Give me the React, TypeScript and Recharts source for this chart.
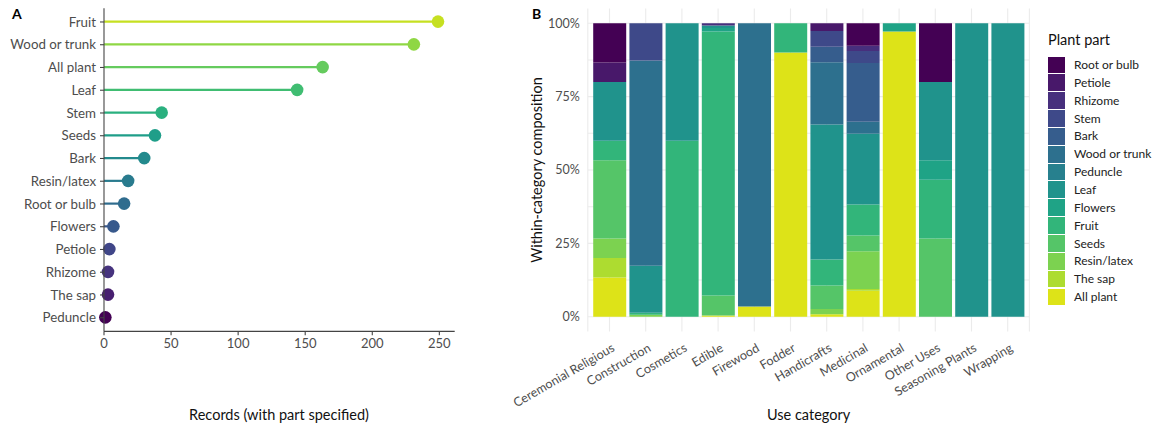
import React from 'react';
import {
  BarChart,
  Bar,
  XAxis,
  YAxis,
  CartesianGrid,
} from 'recharts';

const FONT = 'Lato, "Open Sans", "DejaVu Sans", sans-serif';
const TICK_GREY = '#4D4D4D';
const AXIS_GREY = '#444444';

// ---- Panel A: records per plant part (lollipop) ----
const lollipopParts = [
  'Fruit', 'Wood or trunk', 'All plant', 'Leaf', 'Stem', 'Seeds', 'Bark',
  'Resin/latex', 'Root or bulb', 'Flowers', 'Petiole', 'Rhizome', 'The sap', 'Peduncle',
];
const lollipopRecords = [249, 231, 163, 144, 43, 38, 30, 18, 15, 7, 4, 3, 3, 1];
const lollipopColors = [
  '#C6E021', '#8FD744', '#65CB5E', '#40BD72', '#2AB07F', '#1F9E89', '#238A8D',
  '#297B8E', '#2F6C8E', '#38598C', '#404688', '#46337E', '#481F70', '#440154',
];
const recordTicks = [0, 50, 100, 150, 200, 250];

// ---- Panel B: plant-part composition within each use category ----
const useCategories = [
  'Ceremonial Religious', 'Construction', 'Cosmetics', 'Edible', 'Firewood', 'Fodder',
  'Handicrafts', 'Medicinal', 'Ornamental', 'Other Uses', 'Seasoning Plants', 'Wrapping',
];

// legend order (top of stack first)
const plantParts = [
  'Root or bulb', 'Petiole', 'Rhizome', 'Stem', 'Bark', 'Wood or trunk', 'Peduncle',
  'Leaf', 'Flowers', 'Fruit', 'Seeds', 'Resin/latex', 'The sap', 'All plant',
];
const partColors = [
  '#440154', '#48186A', '#472F7D', '#3E4989', '#365D8D', '#2D708E', '#27808E',
  '#20938C', '#1FA386', '#32B57A', '#55C568', '#7CD250', '#ADDC30', '#DDE318',
];

// record counts per use category, one array per plant part
const rootOrBulb = [2, 0, 0, 0, 0, 0, 0, 13, 0, 3, 0, 0];
const petiole = [1, 0, 0, 0, 0, 0, 3, 0, 0, 0, 0, 0];
const rhizome = [0, 0, 0, 2, 0, 0, 0, 3, 0, 0, 0, 0];
const stem = [0, 19, 0, 0, 0, 0, 6, 7, 0, 0, 0, 0];
const bark = [0, 0, 0, 0, 0, 0, 6, 34, 0, 0, 0, 0];
const woodOrTrunk = [0, 105, 0, 0, 28, 0, 24, 7, 0, 0, 0, 0];
const peduncle = [0, 0, 0, 0, 0, 0, 0, 0, 0, 0, 0, 0];
const leaf = [3, 24, 2, 2, 0, 0, 52, 41, 0, 4, 1, 1];
const flowers = [0, 0, 0, 3, 0, 0, 0, 0, 1, 1, 0, 0];
const fruit = [1, 1, 3, 225, 0, 1, 10, 18, 0, 3, 0, 0];
const seeds = [4, 0, 0, 17, 0, 0, 9, 9, 0, 4, 0, 0];
const resinLatex = [1, 1, 0, 0, 0, 0, 2, 22, 0, 0, 0, 0];
const theSap = [1, 0, 0, 0, 0, 0, 0, 1, 0, 0, 0, 0];
const allPlant = [2, 0, 0, 1, 1, 9, 1, 15, 35, 0, 0, 0];

const partCounts = [
  rootOrBulb, petiole, rhizome, stem, bark, woodOrTrunk, peduncle,
  leaf, flowers, fruit, seeds, resinLatex, theSap, allPlant,
];
const percentTicks = [0, 0.25, 0.5, 0.75, 1];
// major + minor horizontal grid values
const gridValues = [0, 0.125, 0.25, 0.375, 0.5, 0.625, 0.75, 0.875, 1];

const lollipopData = lollipopParts.map((part, i) => ({
  part,
  records: lollipopRecords[i],
  color: lollipopColors[i],
}));

const compositionData = useCategories.map((category, c) => {
  const total = partCounts.reduce((s, arr) => s + arr[c], 0);
  const row: Record<string, number | string> = { category };
  partCounts.forEach((arr, p) => {
    row['p' + p] = total > 0 ? arr[c] / total : 0;
  });
  return row;
});

// Stem + dot for each part
const Lollipop = (props: any) => {
  const { x, y, width, height, payload } = props;
  const cy = y + height / 2;
  const end = x + width;
  return (
    <g>
      <line x1={x} x2={end} y1={cy} y2={cy} stroke={payload.color} strokeWidth={2.2} />
      <circle cx={end} cy={cy} r={6.3} fill={payload.color} />
    </g>
  );
};

const SlantedTick = (props: any) => {
  const { x, y, payload } = props;
  return (
    <g transform={`translate(${x + 6},${y + 19})`}>
      <text
        x={0}
        y={0}
        textAnchor="end"
        transform="rotate(-30)"
        fill={TICK_GREY}
        fontSize={12.5}
        fontFamily={FONT}
      >
        {payload.value}
      </text>
    </g>
  );
};

const pct = (v: number) => `${Math.round(v * 100)}%`;

export default function App() {
  return (
    <div
      style={{
        position: 'absolute',
        left: 0,
        top: 0,
        width: 1158,
        height: 426,
        background: '#fff',
        overflow: 'hidden',
        fontFamily: FONT,
      }}
    >
      {/* Panel A */}
      <div style={{ position: 'absolute', left: 0, top: 0 }}>
        <BarChart
          width={470}
          height={426}
          data={lollipopData}
          layout="vertical"
          margin={{ top: 8.35, right: 15.3, left: 0, bottom: 0 }}
        >
          <XAxis
            type="number"
            dataKey="records"
            domain={[0, 261.45]}
            ticks={recordTicks}
            height={94.65}
            axisLine={{ stroke: AXIS_GREY, strokeWidth: 1.1 }}
            tickLine={{ stroke: AXIS_GREY, strokeWidth: 1.1 }}
            tickSize={4}
            tickMargin={3}
            tick={{ fill: TICK_GREY, fontSize: 13, fontFamily: FONT }}
          />
          <YAxis
            type="category"
            dataKey="part"
            width={104}
            interval={0}
            padding={{ top: 2.25, bottom: 2.25 }}
            axisLine={{ stroke: AXIS_GREY, strokeWidth: 1.1 }}
            tickLine={{ stroke: AXIS_GREY, strokeWidth: 1.1 }}
            tickSize={4}
            tickMargin={4}
            tick={{ fill: TICK_GREY, fontSize: 13.3, fontFamily: FONT }}
          />
          <Bar dataKey="records" barSize={10} shape={Lollipop} isAnimationActive={false} />
        </BarChart>
      </div>
      <div style={{ position: 'absolute', left: 12, top: 5, fontSize: 14, fontWeight: 700, color: '#000' }}>A</div>
      <div
        style={{
          position: 'absolute',
          left: 104,
          width: 350,
          top: 406,
          textAlign: 'center',
          fontSize: 14.5,
          color: '#111',
        }}
      >
        Records (with part specified)
      </div>

      {/* Panel B */}
      <div style={{ position: 'absolute', left: 470, top: 0 }}>
        <BarChart
          width={570}
          height={426}
          data={compositionData}
          margin={{ top: 8.6, right: 10.6, left: 57.8, bottom: 0 }}
          barCategoryGap="5%"
        >
          <CartesianGrid stroke="#EBEBEB" strokeWidth={1.1} horizontalValues={gridValues} />
          <XAxis
            dataKey="category"
            height={94.6}
            interval={0}
            padding={{ left: 3.6, right: 3.6 }}
            axisLine={false}
            tickLine={false}
            tickSize={0}
            tickMargin={0}
            tick={<SlantedTick />}
          />
          <YAxis
            type="number"
            width={60}
            domain={[-0.05, 1.05]}
            ticks={percentTicks}
            tickFormatter={pct}
            axisLine={false}
            tickLine={false}
            tickSize={0}
            tickMargin={8}
            tick={{ fill: TICK_GREY, fontSize: 12.5, fontFamily: FONT }}
          />
          {plantParts
            .map((part, p) => ({ part, p }))
            .reverse()
            .map(({ part, p }) => (
              <Bar
                key={part}
                name={part}
                dataKey={'p' + p}
                stackId="parts"
                fill={partColors[p]}
                isAnimationActive={false}
              />
            ))}
        </BarChart>
      </div>
      <div style={{ position: 'absolute', left: 532, top: 5, fontSize: 14, fontWeight: 700, color: '#000' }}>B</div>
      <div
        style={{
          position: 'absolute',
          left: 536.5,
          top: 170,
          width: 0,
          height: 0,
        }}
      >
        <div
          style={{
            position: 'absolute',
            left: -150,
            top: -10,
            width: 300,
            textAlign: 'center',
            fontSize: 14.5,
            lineHeight: '20px',
            color: '#111',
            transform: 'rotate(-90deg)',
            whiteSpace: 'nowrap',
          }}
        >
          Within-category composition
        </div>
      </div>
      <div
        style={{
          position: 'absolute',
          left: 587.8,
          width: 441.6,
          top: 406,
          textAlign: 'center',
          fontSize: 14.5,
          color: '#111',
        }}
      >
        Use category
      </div>

      {/* Legend */}
      <div style={{ position: 'absolute', left: 1048, top: 31, fontSize: 14.5, color: '#111' }}>Plant part</div>
      {plantParts.map((part, i) => (
        <div key={part} style={{ position: 'absolute', left: 1048, top: 56 + i * 17.85, height: 17.85 }}>
          <div
            style={{
              position: 'absolute',
              left: 0,
              top: 0.5,
              width: 16.8,
              height: 16.8,
              background: partColors[i],
            }}
          />
          <div
            style={{
              position: 'absolute',
              left: 26,
              top: 0,
              lineHeight: '17.85px',
              fontSize: 12,
              color: '#222',
              whiteSpace: 'nowrap',
            }}
          >
            {part}
          </div>
        </div>
      ))}
    </div>
  );
}
